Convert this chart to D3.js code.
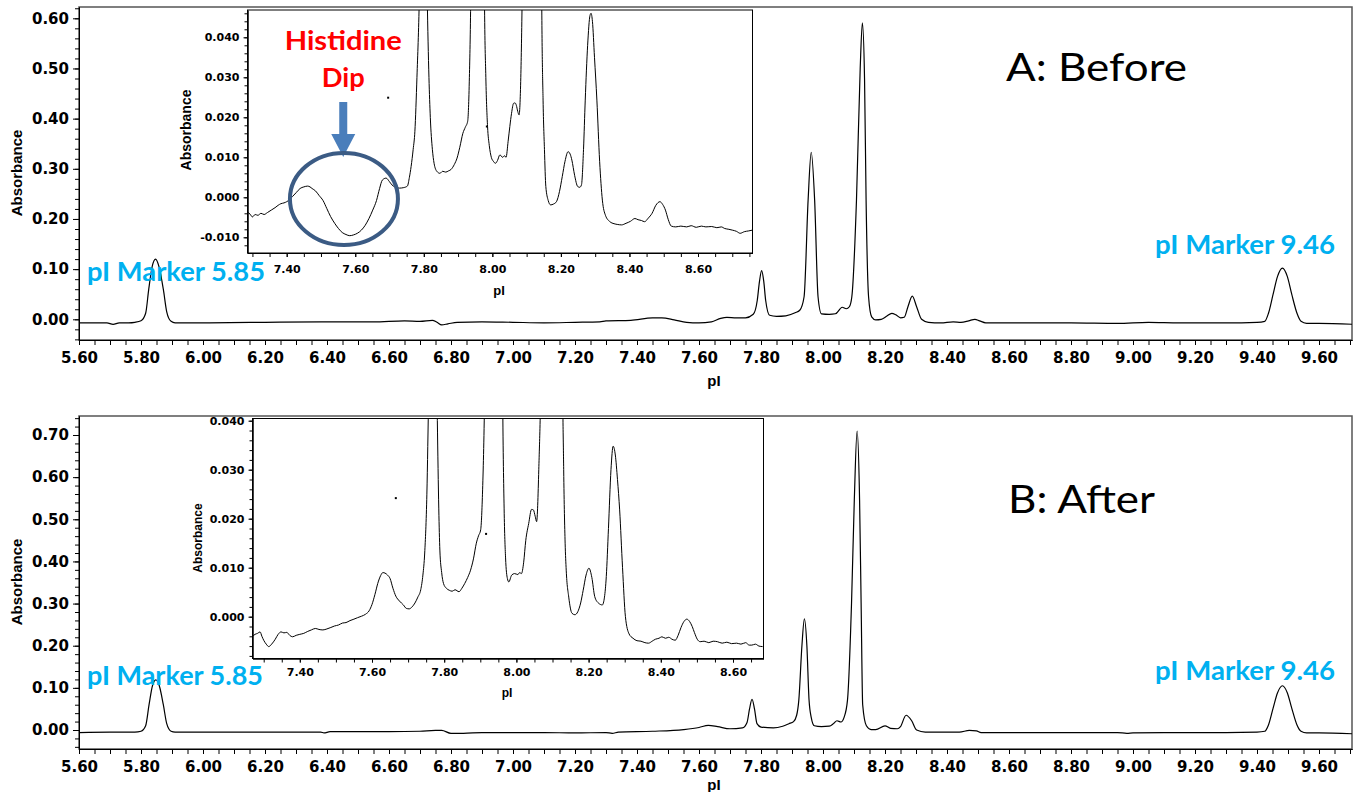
<!DOCTYPE html>
<html>
<head>
<meta charset="utf-8">
<script src="https://cdn.jsdelivr.net/npm/d3@7"></script>
<style>
  body { margin: 0; background: #fff; }
  svg { display: block; }
</style>
</head>
<body>
<script>
// === data: [pI, absorbance]
var traceBefore = [
  [5.60,-0.007],[5.65,-0.007],[5.69,-0.007],[5.71,-0.010],[5.73,-0.007],[5.76,-0.007],[5.78,-0.006],
  [5.80,-0.003],[5.815,0.012],[5.825,0.060],[5.836,0.105],[5.847,0.120],[5.858,0.105],[5.872,0.060],
  [5.883,0.015],[5.897,-0.004],[5.91,-0.007],[6.00,-0.007],[6.20,-0.006],[6.40,-0.005],[6.55,-0.005],
  [6.65,-0.003],[6.70,-0.004],[6.74,-0.002],[6.755,-0.006],[6.77,-0.011],[6.79,-0.009],[6.82,-0.006],
  [6.90,-0.005],[7.00,-0.006],[7.10,-0.007],[7.20,-0.006],[7.28,-0.005],[7.30,-0.003],[7.38,-0.002],
  [7.45,0.003],[7.48,0.003],[7.52,-0.001],[7.56,-0.006],[7.60,-0.007],[7.64,-0.005],[7.67,0.002],
  [7.69,0.004],[7.72,0.003],[7.75,0.003],[7.775,0.010],[7.788,0.038],[7.795,0.075],[7.802,0.097],
  [7.809,0.075],[7.815,0.038],[7.828,0.008],[7.85,0.006],[7.88,0.007],[7.91,0.013],[7.925,0.018],
  [7.939,0.045],[7.952,0.238],[7.962,0.333],[7.973,0.238],[7.984,0.045],[7.995,0.011],[8.02,0.010],
  [8.04,0.011],[8.062,0.024],[8.075,0.021],[8.085,0.025],[8.093,0.045],[8.108,0.238],[8.120,0.50],
  [8.127,0.591],[8.134,0.48],[8.139,0.238],[8.147,0.045],[8.157,0.005],[8.170,-0.001],[8.188,0.000],
  [8.205,0.006],[8.222,0.012],[8.235,0.009],[8.250,0.003],[8.262,0.004],[8.274,0.025],[8.288,0.046],
  [8.302,0.025],[8.318,0.000],[8.34,-0.006],[8.38,-0.007],[8.42,-0.005],[8.445,-0.006],[8.47,-0.003],
  [8.49,0.000],[8.505,-0.003],[8.525,-0.007],[8.60,-0.007],[8.80,-0.007],[8.95,-0.008],[9.05,-0.006],
  [9.15,-0.007],[9.30,-0.007],[9.40,-0.006],[9.425,-0.004],[9.437,0.012],[9.452,0.050],[9.466,0.085],
  [9.482,0.102],[9.498,0.085],[9.512,0.050],[9.529,0.012],[9.542,-0.004],[9.56,-0.008],[9.60,-0.008],
  [9.71,-0.010]
];

var traceAfter = [
  [5.60,-0.006],[5.70,-0.005],[5.78,-0.005],[5.80,-0.003],[5.815,0.010],[5.826,0.060],[5.837,0.105],
  [5.848,0.119],[5.859,0.105],[5.872,0.060],[5.883,0.015],[5.897,-0.003],[5.91,-0.005],[6.00,-0.005],
  [6.20,-0.005],[6.38,-0.005],[6.39,-0.007],[6.41,-0.004],[6.60,-0.004],[6.70,-0.003],[6.75,-0.001],
  [6.77,-0.001],[6.80,-0.008],[6.84,-0.008],[6.90,-0.006],[7.00,-0.006],[7.10,-0.006],[7.20,-0.007],
  [7.30,-0.006],[7.32,-0.008],[7.34,-0.005],[7.45,-0.003],[7.55,0.001],[7.60,0.006],[7.63,0.011],
  [7.66,0.008],[7.70,0.003],[7.74,0.005],[7.755,0.018],[7.763,0.050],[7.771,0.073],[7.779,0.050],
  [7.787,0.015],[7.80,0.007],[7.84,0.005],[7.87,0.009],[7.89,0.015],[7.905,0.020],[7.915,0.035],
  [7.922,0.071],[7.932,0.200],[7.940,0.264],[7.948,0.200],[7.955,0.071],[7.962,0.030],[7.972,0.010],
  [7.995,0.008],[8.02,0.009],[8.035,0.016],[8.045,0.022],[8.058,0.019],[8.068,0.030],[8.079,0.071],
  [8.092,0.300],[8.101,0.546],[8.110,0.709],[8.118,0.546],[8.123,0.300],[8.128,0.060],[8.14,0.010],
  [8.155,0.001],[8.170,0.001],[8.200,0.010],[8.218,0.004],[8.240,0.003],[8.250,0.008],[8.268,0.035],
  [8.286,0.022],[8.302,0.000],[8.33,-0.005],[8.37,-0.005],[8.44,-0.005],[8.472,-0.001],[8.495,-0.002],
  [8.51,-0.006],[8.60,-0.006],[8.80,-0.006],[8.95,-0.006],[8.98,-0.008],[9.00,-0.007],[9.10,-0.006],
  [9.30,-0.006],[9.40,-0.005],[9.425,-0.003],[9.437,0.012],[9.452,0.052],[9.466,0.088],[9.482,0.105],
  [9.498,0.088],[9.512,0.052],[9.529,0.012],[9.542,-0.003],[9.56,-0.007],[9.60,-0.007],[9.71,-0.009]
];

// zoomed insets (finer reading of the 7.3 - 8.8 region)
var insetBefore = [
  [7.286,-0.0037],[7.293,-0.0042],[7.300,-0.0049],[7.308,-0.0043],[7.316,-0.0045],[7.325,-0.0040],
  [7.334,-0.0043],[7.344,-0.0038],[7.355,-0.0032],[7.366,-0.0026],[7.375,-0.0020],[7.383,-0.0016],
  [7.392,-0.0014],[7.400,-0.0011],[7.408,-0.0006],[7.417,0.0002],[7.428,0.0012],[7.439,0.0022],
  [7.450,0.0026],[7.461,0.0028],[7.468,0.0026],[7.474,0.0022],[7.484,0.0016],[7.495,0.0004],
  [7.506,-0.0008],[7.517,-0.0028],[7.528,-0.0048],[7.540,-0.0065],[7.551,-0.0078],[7.562,-0.0088],
  [7.573,-0.0093],[7.584,-0.0096],[7.595,-0.0094],[7.606,-0.0090],[7.618,-0.0082],[7.629,-0.0070],
  [7.640,-0.0053],[7.651,-0.0032],[7.662,-0.0008],[7.671,0.0022],[7.679,0.0043],[7.690,0.0048],
  [7.699,0.0040],[7.707,0.0031],[7.718,0.0025],[7.729,0.0023],[7.740,0.0024],[7.752,0.0028],
  [7.758,0.0050],[7.763,0.0077],[7.769,0.0120],[7.774,0.0165],[7.780,0.030],[7.787,0.050],
  [7.793,0.080],[7.799,0.097],[7.805,0.080],[7.810,0.050],[7.815,0.030],[7.819,0.020],[7.825,0.012],
  [7.830,0.0085],[7.838,0.0065],[7.847,0.0060],[7.855,0.0065],[7.864,0.0063],[7.872,0.0066],
  [7.880,0.0070],[7.889,0.0082],[7.897,0.0098],[7.905,0.0125],[7.914,0.0160],[7.921,0.0175],
  [7.928,0.0190],[7.933,0.030],[7.937,0.050],[7.945,0.150],[7.955,0.300],[7.962,0.333],[7.969,0.300],
  [7.972,0.150],[7.977,0.050],[7.981,0.030],[7.986,0.0177],[7.991,0.0130],[7.997,0.0100],
  [8.003,0.0090],[8.009,0.0085],[8.015,0.0092],[8.022,0.0106],[8.030,0.0100],[8.036,0.0104],
  [8.040,0.0100],[8.046,0.0140],[8.051,0.0177],[8.056,0.0210],[8.062,0.0235],[8.066,0.0236],
  [8.070,0.0230],[8.074,0.0215],[8.078,0.0206],[8.083,0.030],[8.087,0.050],[8.100,0.200],
  [8.115,0.500],[8.127,0.591],[8.135,0.450],[8.140,0.200],[8.144,0.050],[8.148,0.0243],
  [8.152,0.0120],[8.156,0.0027],[8.163,-0.0008],[8.170,-0.0019],[8.178,-0.0017],[8.187,-0.0011],
  [8.196,0.0015],[8.204,0.0052],[8.212,0.0090],[8.221,0.0114],[8.227,0.0108],[8.232,0.0093],
  [8.240,0.0055],[8.249,0.0027],[8.255,0.0025],[8.260,0.0031],[8.266,0.0120],[8.271,0.0243],
  [8.278,0.0380],[8.285,0.0455],[8.288,0.0460],[8.292,0.0440],[8.298,0.0350],[8.305,0.0243],
  [8.313,0.0090],[8.321,-0.0007],[8.330,-0.0045],[8.343,-0.0061],[8.355,-0.0066],[8.366,-0.0068],
  [8.377,-0.0069],[8.390,-0.0065],[8.403,-0.0060],[8.416,-0.0053],[8.425,-0.0056],[8.435,-0.0058],
  [8.444,-0.0061],[8.455,-0.0052],[8.466,-0.0040],[8.477,-0.0020],[8.489,-0.0011],[8.497,-0.0018],
  [8.505,-0.0032],[8.513,-0.0055],[8.522,-0.0072],[8.535,-0.0074],[8.550,-0.0072],[8.567,-0.0074],
  [8.580,-0.0071],[8.595,-0.0075],[8.610,-0.0072],[8.623,-0.0074],[8.640,-0.0073],[8.655,-0.0076],
  [8.668,-0.0074],[8.678,-0.0078],[8.690,-0.0080],[8.700,-0.0082],[8.712,-0.0085],[8.723,-0.0090],
  [8.735,-0.0086],[8.748,-0.0084],[8.759,-0.0082]
];

var insetAfter = [
  [7.268,-0.0041],[7.276,-0.0036],[7.283,-0.0034],[7.290,-0.0031],[7.295,-0.0040],[7.300,-0.0048],
  [7.307,-0.0056],[7.314,-0.0061],[7.322,-0.0056],[7.332,-0.0046],[7.340,-0.0036],[7.348,-0.0031],
  [7.356,-0.0033],[7.364,-0.0032],[7.372,-0.0038],[7.380,-0.0041],[7.390,-0.0038],[7.400,-0.0036],
  [7.411,-0.0034],[7.422,-0.0030],[7.432,-0.0027],[7.443,-0.0024],[7.453,-0.0026],[7.464,-0.0027],
  [7.475,-0.0025],[7.486,-0.0022],[7.496,-0.0019],[7.507,-0.0017],[7.518,-0.0013],[7.528,-0.0012],
  [7.539,-0.0008],[7.550,-0.0005],[7.560,-0.0002],[7.571,0.0001],[7.582,0.0005],[7.592,0.0012],
  [7.600,0.0025],[7.608,0.0045],[7.616,0.0068],[7.624,0.0084],[7.630,0.0090],[7.636,0.0089],
  [7.643,0.0085],[7.650,0.0078],[7.658,0.0058],[7.666,0.0042],[7.676,0.0032],[7.687,0.0024],
  [7.695,0.0017],[7.703,0.0016],[7.711,0.0020],[7.719,0.0028],[7.727,0.0040],[7.735,0.0055],
  [7.741,0.0085],[7.746,0.0130],[7.752,0.025],[7.757,0.045],[7.763,0.062],[7.771,0.074],
  [7.777,0.062],[7.781,0.040],[7.785,0.022],[7.788,0.0136],[7.793,0.0090],[7.798,0.0068],
  [7.806,0.0058],[7.814,0.0054],[7.822,0.0052],[7.830,0.0055],[7.841,0.0051],[7.849,0.0058],
  [7.857,0.0068],[7.865,0.0080],[7.873,0.0095],[7.881,0.0118],[7.889,0.0150],[7.895,0.0165],
  [7.901,0.0177],[7.906,0.0250],[7.912,0.045],[7.920,0.100],[7.930,0.220],[7.940,0.264],
  [7.950,0.220],[7.958,0.100],[7.962,0.045],[7.966,0.0220],[7.970,0.0120],[7.975,0.0078],
  [7.979,0.0071],[7.987,0.0085],[7.995,0.0088],[8.004,0.0086],[8.009,0.0090],[8.014,0.0088],
  [8.020,0.0110],[8.026,0.0156],[8.034,0.0190],[8.042,0.0219],[8.047,0.0218],[8.052,0.0205],
  [8.056,0.0194],[8.062,0.030],[8.070,0.060],[8.085,0.250],[8.100,0.550],[8.110,0.709],
  [8.118,0.550],[8.123,0.300],[8.127,0.060],[8.131,0.030],[8.135,0.015],[8.138,0.0095],
  [8.145,0.0040],[8.154,0.0007],[8.162,0.0004],[8.170,0.0010],[8.178,0.0028],[8.185,0.0054],
  [8.193,0.0085],[8.201,0.0099],[8.209,0.0080],[8.217,0.0041],[8.227,0.0028],[8.238,0.0024],
  [8.244,0.0040],[8.249,0.0082],[8.255,0.0180],[8.262,0.0300],[8.268,0.0348],[8.274,0.0330],
  [8.280,0.0280],[8.286,0.0218],[8.294,0.0100],[8.302,0.0000],[8.312,-0.0035],[8.323,-0.0044],
  [8.334,-0.0049],[8.345,-0.0050],[8.356,-0.0053],[8.366,-0.0054],[8.376,-0.0050],[8.385,-0.0046],
  [8.395,-0.0044],[8.403,-0.0041],[8.413,-0.0044],[8.422,-0.0042],[8.431,-0.0046],[8.440,-0.0048],
  [8.448,-0.0038],[8.456,-0.0022],[8.464,-0.0010],[8.472,-0.0005],[8.480,-0.0010],[8.487,-0.0020],
  [8.493,-0.0032],[8.501,-0.0046],[8.509,-0.0051],[8.520,-0.0050],[8.533,-0.0053],[8.545,-0.0050],
  [8.557,-0.0051],[8.570,-0.0054],[8.583,-0.0052],[8.596,-0.0055],[8.610,-0.0054],[8.622,-0.0056],
  [8.635,-0.0053],[8.645,-0.0058],[8.652,-0.0058],[8.662,-0.0056],[8.672,-0.0060],[8.682,-0.0061]
];

// stray specks on the inset traces
var specksBefore = [[7.696, 0.0249], [7.984, 0.0177]];
var specksAfter = [[7.666, 0.0242], [7.916, 0.0169]];

// tick labels
var mainXTicks = ['5.60','5.80','6.00','6.20','6.40','6.60','6.80','7.00','7.20','7.40','7.60',
                  '7.80','8.00','8.20','8.40','8.60','8.80','9.00','9.20','9.40','9.60'];
var yTicksBefore = ['0.00','0.10','0.20','0.30','0.40','0.50','0.60'];
var yTicksAfter = ['0.00','0.10','0.20','0.30','0.40','0.50','0.60','0.70'];
var insetXTicks = ['7.40','7.60','7.80','8.00','8.20','8.40','8.60'];
var insetYTicksBefore = ['-0.010','0.000','0.010','0.020','0.030','0.040'];
var insetYTicksAfter = ['0.000','0.010','0.020','0.030','0.040'];

var TICK_FONT = 'DejaVu Sans, Verdana, sans-serif';
var LABEL_FONT = 'Liberation Sans, Arial, sans-serif';
var NOTE_FONT = 'Lato, Open Sans, sans-serif';
var markerBlue = '#00b0f0';

var svg = d3.select('body').append('svg')
  .attr('width', 1358)
  .attr('height', 792);

// scale whose range is the frame edges, calibrated from two tick positions
function anchored(v0, p0, v1, p1, pa, pb) {
  var s = d3.scaleLinear().domain([v0, v1]).range([p0, p1]);
  return d3.scaleLinear().domain([s.invert(pa), s.invert(pb)]).range([pa, pb]);
}

function styleAxis(g, size) {
  g.selectAll('path, line').attr('stroke', '#000').attr('stroke-width', 1);
  g.selectAll('text')
    .attr('fill', '#000')
    .style('font-family', TICK_FONT)
    .style('font-weight', 'bold')
    .style('font-size', size + 'px');
}

function minorRange(scale, step) {
  var d = scale.domain(), lo = Math.min(d[0], d[1]), hi = Math.max(d[0], d[1]);
  return d3.range(Math.ceil(lo / step - 1e-6), Math.floor(hi / step + 1e-6) + 1).map(k => k * step);
}

// draws frame, axes and trace for one plot box
function drawPlot(o) {
  var g = svg.append('g');
  var x0 = o.x.range()[0], x1 = o.x.range()[1];
  var yTop = o.y.range()[1], yBot = o.y.range()[0];
  var id = 'clip' + o.name;

  g.append('clipPath').attr('id', id)
    .append('rect').attr('x', x0).attr('y', yTop).attr('width', x1 - x0).attr('height', yBot - yTop);

  g.append('rect')
    .attr('x', x0).attr('y', yTop)
    .attr('width', x1 - x0).attr('height', yBot - yTop)
    .attr('fill', '#fff')
    .attr('stroke', o.frame)
    .attr('stroke-width', o.frameWidth);

  // x axis
  var xm = g.append('g').attr('transform', `translate(0,${yBot})`)
    .call(d3.axisBottom(o.x).tickValues(minorRange(o.x, 0.05)).tickSize(o.xTick).tickSizeOuter(0).tickFormat(''));
  styleAxis(xm, o.tickFont);
  var xa = g.append('g').attr('transform', `translate(0,${yBot})`)
    .call(d3.axisBottom(o.x).tickValues(o.xTicks.map(Number)).tickSize(o.xTick).tickSizeOuter(0)
      .tickPadding(o.xPad).tickFormat((d, i) => o.xTicks[i]));
  styleAxis(xa, o.tickFont);

  // y axis
  var ym = g.append('g').attr('transform', `translate(${x0},0)`)
    .call(d3.axisLeft(o.y).tickValues(minorRange(o.y, o.yMinor)).tickSize(o.yTickMinor).tickSizeOuter(0).tickFormat(''));
  styleAxis(ym, o.tickFont);
  var ya = g.append('g').attr('transform', `translate(${x0},0)`)
    .call(d3.axisLeft(o.y).tickValues(o.yTicks.map(Number)).tickSize(o.yTick).tickSizeOuter(0)
      .tickPadding(o.yPad).tickFormat((d, i) => o.yTicks[i]));
  styleAxis(ya, o.tickFont);

  var line = d3.line()
    .x(d => o.x(d[0]))
    .y(d => o.y(d[1]))
    .curve(d3.curveMonotoneX);

  g.append('path')
    .datum(o.data)
    .attr('clip-path', `url(#${id})`)
    .attr('fill', 'none')
    .attr('stroke', '#000')
    .attr('stroke-width', o.lineWidth)
    .attr('stroke-linejoin', 'round')
    .attr('d', line);

  if (o.specks) {
    g.selectAll('.speck' + o.name)
      .data(o.specks)
      .enter().append('rect')
      .attr('x', d => o.x(d[0]) - 1)
      .attr('y', d => o.y(d[1]) - 1)
      .attr('width', 2).attr('height', 2)
      .attr('fill', '#000');
  }

  // axis titles
  g.append('text')
    .text('pI')
    .attr('x', o.pI[0]).attr('y', o.pI[1])
    .attr('text-anchor', 'middle')
    .style('font-family', LABEL_FONT).style('font-weight', 'bold')
    .style('font-size', o.titleFont + 'px');

  g.append('text')
    .text('Absorbance')
    .attr('text-anchor', 'middle')
    .attr('transform', `translate(${o.abs[0]},${o.abs[1]}) rotate(-90)`)
    .style('font-family', LABEL_FONT).style('font-weight', 'bold')
    .style('font-size', o.absFont + 'px');

  return g;
}

// === main panels
var xMainA = anchored(5.6, 79, 9.6, 1319, 79, 1352);
var yMainA = anchored(0, 319.3, 0.6, 18.3, 340, 7);
var xMainB = anchored(5.6, 79, 9.6, 1319, 79, 1352);
var yMainB = anchored(0, 730, 0.7, 435, 749, 416);

var mainStyle = {
  frame: '#555', frameWidth: 1.5, tickFont: 15, xTick: 5, xPad: 7,
  yTick: 6, yTickMinor: 4, yPad: 4, yMinor: 0.02, xTicks: mainXTicks,
  lineWidth: 1.2, titleFont: 15, absFont: 15
};

drawPlot(Object.assign({}, mainStyle, {
  name: 'A', x: xMainA, y: yMainA, yTicks: yTicksBefore, data: traceBefore,
  pI: [714, 386], abs: [22, 173]
}));
drawPlot(Object.assign({}, mainStyle, {
  name: 'B', x: xMainB, y: yMainB, yTicks: yTicksAfter, data: traceAfter,
  pI: [714, 790], abs: [22, 582]
}));

// === insets
var xInA = anchored(7.4, 286.7, 8.6, 698, 247.5, 752.5);
var yInA = anchored(-0.01, 237.3, 0.04, 37.3, 253, 10);
var xInB = anchored(7.4, 299.8, 8.6, 733, 252.5, 763.5);
var yInB = anchored(0, 616.7, 0.04, 420.7, 658.5, 418.5);

var insetStyle = {
  frame: '#000', frameWidth: 1, tickFont: 11, xTick: 4, yTick: 4, yTickMinor: 3,
  yPad: 4, yMinor: 0.002, xTicks: insetXTicks, lineWidth: 1
};

drawPlot(Object.assign({}, insetStyle, {
  name: 'IA', x: xInA, y: yInA, yTicks: insetYTicksBefore, data: insetBefore, specks: specksBefore,
  xPad: 8, pI: [499, 295], abs: [191, 130], titleFont: 13, absFont: 14
}));
drawPlot(Object.assign({}, insetStyle, {
  name: 'IB', x: xInB, y: yInB, yTicks: insetYTicksAfter, data: insetAfter, specks: specksAfter,
  xPad: 6, pI: [507, 697], abs: [202, 538], titleFont: 12, absFont: 12
}));

// === annotations
function note(txt, x, y, size, weight, color, len, anchor) {
  svg.append('text')
    .text(txt)
    .attr('x', x).attr('y', y)
    .attr('text-anchor', anchor || 'start')
    .attr('textLength', len)
    .attr('lengthAdjust', 'spacingAndGlyphs')
    .attr('fill', color)
    .style('font-family', NOTE_FONT)
    .style('font-weight', weight)
    .style('font-size', size + 'px');
}

note('A: Before', 1006, 81, 39, 'normal', '#000', 181);
note('B: After', 1008, 513, 39, 'normal', '#000', 147);
note('pI Marker 5.85', 87, 281, 27, 'bold', markerBlue, 178);
note('pI Marker 9.46', 1155, 254, 27, 'bold', markerBlue, 180);
note('pI Marker 5.85', 87, 685, 27, 'bold', markerBlue, 176);
note('pI Marker 9.46', 1155, 680, 27, 'bold', markerBlue, 180);

// histidine dip call-out on inset A
var dipX = 7.565;
note('Histidine', xInA(dipX), 50, 27, 'bold', '#ff0000', 117, 'middle');
note('Dip', xInA(dipX), 87, 27, 'bold', '#ff0000', 43, 'middle');

var ax = xInA(dipX);
svg.append('path')
  .attr('d', `M${ax - 4},102 L${ax + 4},102 L${ax + 4},134 L${ax + 12},134 L${ax},157 L${ax - 12},134 L${ax - 4},134 Z`)
  .attr('fill', '#4a7ebb');

svg.append('ellipse')
  .attr('cx', xInA(7.567))
  .attr('cy', yInA(-0.0004))
  .attr('rx', 54)
  .attr('ry', 46)
  .attr('fill', 'none')
  .attr('stroke', '#3b5b84')
  .attr('stroke-width', 4);
</script>
</body>
</html>
